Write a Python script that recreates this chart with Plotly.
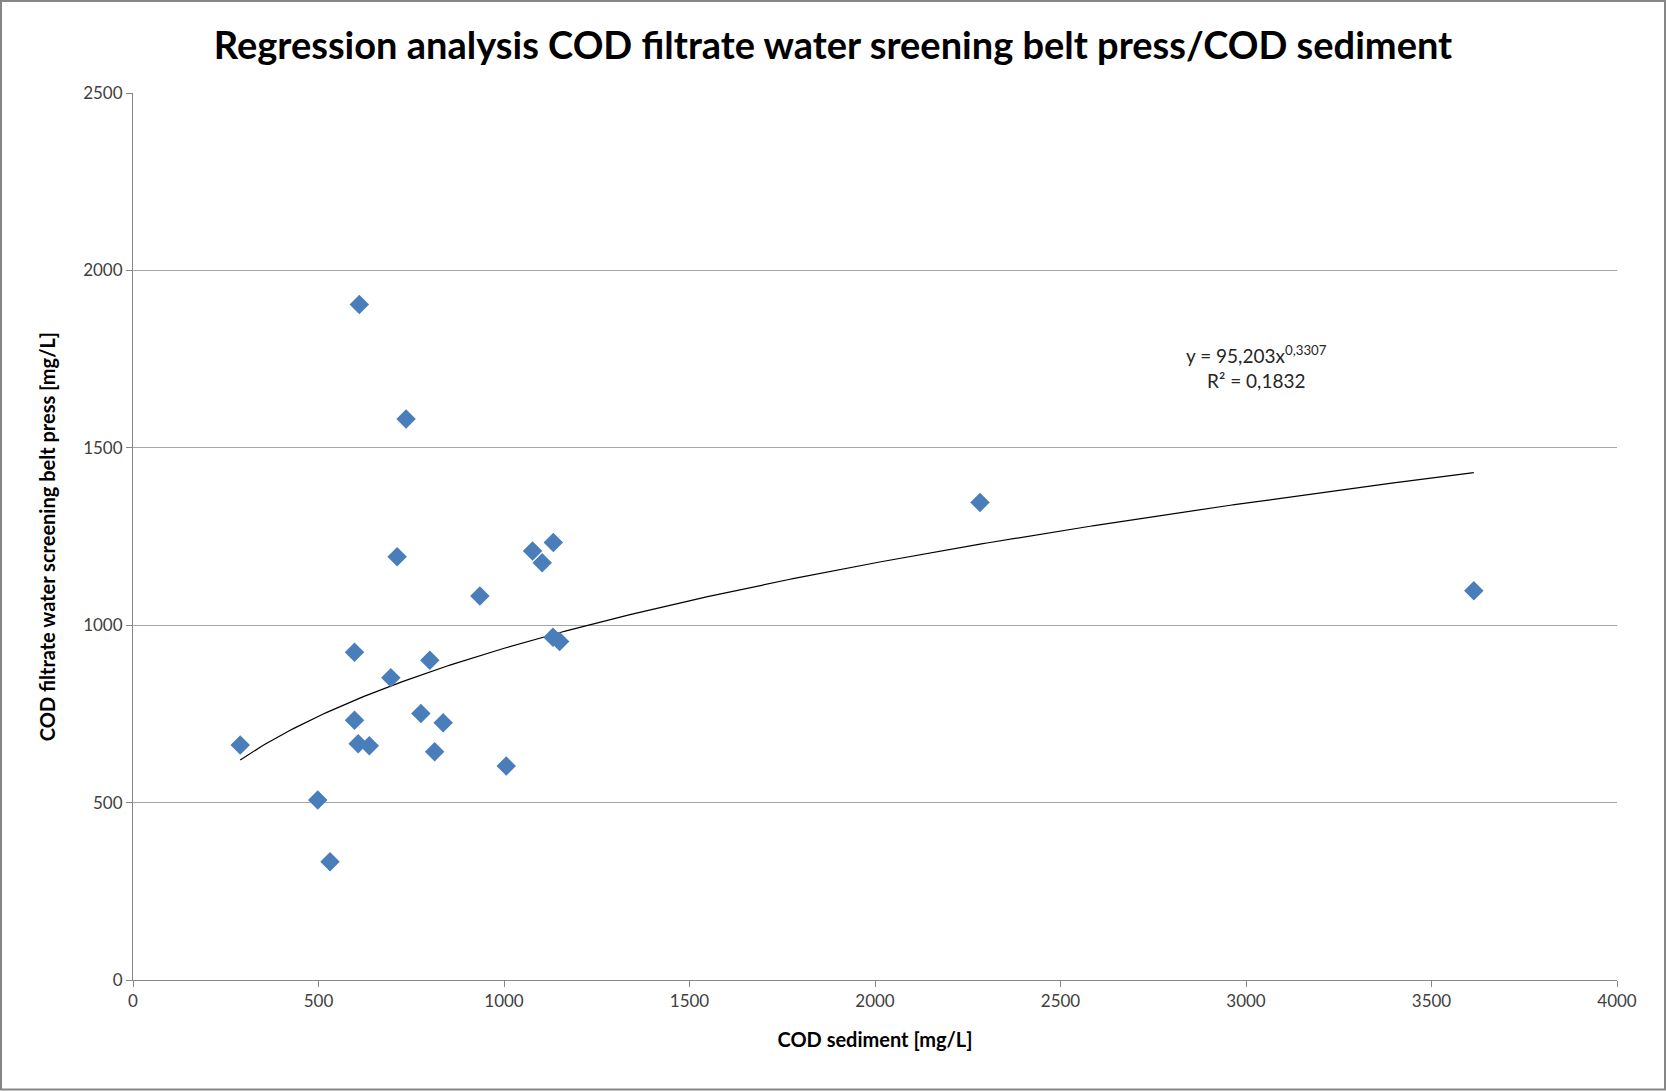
import numpy as np
import plotly.graph_objects as go

# Data
cod_sediment = [289, 498, 531, 597, 597, 607, 610, 637, 695, 712, 736, 776, 800, 813, 836,
                935, 1006, 1077, 1103, 1132, 1133, 1150, 2283, 3614]
cod_filtrate = [662, 507, 333, 924, 732, 666, 1904, 660, 852, 1193, 1581, 751, 901, 643, 725,
                1082, 603, 1209, 1176, 966, 1233, 954, 1346, 1097]

# Power trendline coefficients (as printed on the chart)
coef_a = 95.203
coef_b = 0.3307
r_squared = "0,1832"

x_ticks = [0, 500, 1000, 1500, 2000, 2500, 3000, 3500, 4000]
y_ticks = [0, 500, 1000, 1500, 2000, 2500]

title_text = "Regression analysis COD filtrate water sreening belt press/COD sediment"
x_title = "COD sediment [mg/L]"
y_title = "COD filtrate water screening belt press [mg/L]"

trend_x = np.linspace(min(cod_sediment), max(cod_sediment), 300)
trend_y = coef_a * trend_x ** coef_b

FONT = "Lato"
W, H = 1666, 1091
L, R, T, B = 133, 49, 93, 111
pw, ph = W - L - R, H - T - B

fig = go.Figure()
fig.add_trace(go.Scatter(
    x=trend_x, y=trend_y, mode="lines",
    line=dict(color="#000000", width=1.2), hoverinfo="skip", showlegend=False))
fig.add_trace(go.Scatter(
    x=cod_sediment, y=cod_filtrate, mode="markers",
    marker=dict(symbol="diamond", size=15, color="#4A7EBB", line=dict(width=0)),
    showlegend=False))

def px_to_paper_x(px):
    return (px - L) / pw

def px_to_paper_y(py):
    return (H - B - py) / ph

fig.add_shape(type="rect", xref="paper", yref="paper",
              x0=px_to_paper_x(1), x1=px_to_paper_x(W - 1),
              y0=px_to_paper_y(H - 1.5), y1=px_to_paper_y(1),
              line=dict(color="#868686", width=2), fillcolor="rgba(0,0,0,0)", layer="below")

fig.add_annotation(
    x=3029, y=1729, xref="x", yref="y",
    text="y = 95,203x<sup>0,3307</sup><br>R² = " + r_squared,
    showarrow=False, align="center",
    font=dict(family=FONT, size=19, color="#262626"))

fig.update_layout(
    width=W, height=H,
    margin=dict(l=L, r=R, t=T, b=B),
    paper_bgcolor="white", plot_bgcolor="white",
    title=dict(text="<b>" + title_text + "</b>", x=0.5, xanchor="center",
               y=1 - 46 / H, yanchor="middle",
               font=dict(family=FONT, size=38, color="#000000")),
    xaxis=dict(range=[0, 4000], tickvals=x_ticks, showgrid=False, zeroline=False,
               showline=True, linecolor="#868686", linewidth=1,
               ticks="outside", ticklen=6, tickcolor="#868686",
               tickfont=dict(family=FONT, size=17, color="#404040"),
               title=dict(text="<b>" + x_title + "</b>", standoff=22,
                          font=dict(family=FONT, size=20, color="#000000"))),
    yaxis=dict(range=[0, 2500], tickvals=y_ticks, showgrid=True, gridcolor="#A6A6A6",
               gridwidth=1, zeroline=False,
               showline=True, linecolor="#868686", linewidth=1,
               ticks="outside", ticklen=6, tickcolor="#868686",
               tickfont=dict(family=FONT, size=17, color="#404040"),
               title=dict(text="<b>" + y_title + "</b>", standoff=22,
                          font=dict(family=FONT, size=20, color="#000000"))),
)

fig.write_html("out.html")
